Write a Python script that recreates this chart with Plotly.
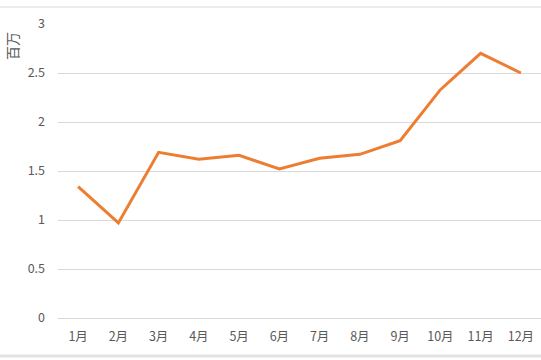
import plotly.graph_objects as go

months = ["1月", "2月", "3月", "4月", "5月", "6月", "7月", "8月", "9月", "10月", "11月", "12月"]
values = [1.34, 0.97, 1.69, 1.62, 1.66, 1.52, 1.63, 1.67, 1.81, 2.33, 2.70, 2.50]
y_ticks = [0, 0.5, 1, 1.5, 2, 2.5, 3]
y_tick_text = ["0", "0.5", "1", "1.5", "2", "2.5", "3"]
unit_label = "百万"

FONT = "Noto Sans CJK SC, Liberation Sans, sans-serif"
W, H = 541, 360
ML, MR, MT, MB = 58, 0, 24, 42
PW = W - ML - MR
PH = H - MT - MB

fig = go.Figure()
fig.add_trace(go.Scatter(
    x=months, y=values, mode="lines",
    line=dict(color="#ED7D31", width=3, shape="linear"),
    hoverinfo="x+y",
))

fig.update_layout(
    width=W, height=H,
    margin=dict(l=ML, r=MR, t=MT, b=MB, autoexpand=False),
    paper_bgcolor="white", plot_bgcolor="white",
    showlegend=False,
    font=dict(family=FONT, size=12, color="#595959"),
    xaxis=dict(
        type="category", showgrid=False, showline=False, zeroline=False,
        ticks="", ticklabelstandoff=9, tickfont=dict(size=12.5, color="#595959"),
        range=[-0.5, len(months) - 0.5],
    ),
    yaxis=dict(
        range=[0, 3], tickvals=y_ticks, ticktext=y_tick_text,
        showgrid=True, gridcolor="#d9d9d9", gridwidth=1,
        zeroline=True, zerolinecolor="#d9d9d9", zerolinewidth=1,
        showline=False, ticks="", ticklabelstandoff=12,
        tickfont=dict(size=12.5, color="#595959"),
    ),
    annotations=[dict(
        text=unit_label, textangle=-90, xref="paper", yref="paper",
        x=(12 - ML) / PW, y=(H - MB - 46) / PH, showarrow=False,
        xanchor="center", yanchor="middle",
        font=dict(size=14, color="#595959", family=FONT),
    )],
    shapes=[
        dict(type="line", xref="paper", yref="paper",
             x0=-ML / PW, x1=1, y0=(H - MB - 7) / PH, y1=(H - MB - 7) / PH,
             line=dict(color="#d9d9d9", width=1)),
        dict(type="line", xref="paper", yref="paper",
             x0=-ML / PW, x1=1, y0=(H - MB - 356) / PH, y1=(H - MB - 356) / PH,
             line=dict(color="#e3e3e3", width=3)),
    ],
)

fig.write_html(
    "out.html",
    config={"displayModeBar": False},
    post_script="document.body.style.margin='0';document.body.style.overflow='hidden';",
)
